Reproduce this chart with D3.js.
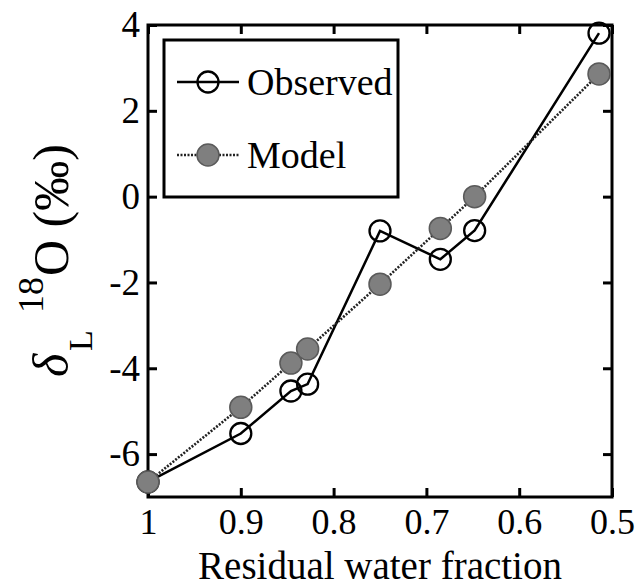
<!DOCTYPE html>
<html>
<head>
<meta charset="utf-8">
<script src="https://cdn.jsdelivr.net/npm/d3@7"></script>
<style>
  body { margin: 0; background: #fff; }
  svg { display: block; font-family: "Liberation Serif", "Times New Roman", serif; }
</style>
</head>
<body>
<div id="chart"></div>
<script>
// residual water fraction for each sample
var fraction = [1, 0.9, 0.846, 0.828, 0.75, 0.685, 0.648, 0.514];
// delta_L 18O values (per mil)
var observed = [-6.65, -5.52, -4.53, -4.37, -0.80, -1.46, -0.79, 3.81];
var model = [-6.65, -4.91, -3.88, -3.55, -2.04, -0.74, 0.0, 2.86];

var xTicks = [1, 0.9, 0.8, 0.7, 0.6, 0.5];
var xTickLabels = ["1", "0.9", "0.8", "0.7", "0.6", "0.5"];
var yTicks = [-6, -4, -2, 0, 2, 4];
var yTickLabels = ["-6", "-4", "-2", "0", "2", "4"];

var svgWidth = 639;
var svgHeight = 588;
var margin = { top: 25, right: 27, bottom: 91, left: 148 };
var chartWidth = svgWidth - margin.left - margin.right;
var chartHeight = svgHeight - margin.top - margin.bottom;

var svg = d3.select("#chart")
    .append("svg")
    .attr("width", svgWidth)
    .attr("height", svgHeight);

var chartGroup = svg.append("g")
    .attr("transform", `translate(${margin.left}, ${margin.top})`);

var xScale = d3.scaleLinear().domain([1, 0.5]).range([0, chartWidth]);
var yScale = d3.scaleLinear().domain([-7, 4]).range([chartHeight, 0]);

var tickLen = 9;

// axes with inward ticks on all four sides
var bottomAxis = d3.axisBottom(xScale)
    .tickValues(xTicks)
    .tickFormat((d, i) => xTickLabels[i])
    .tickSizeInner(-tickLen).tickSizeOuter(0);
var topAxis = d3.axisTop(xScale)
    .tickValues(xTicks).tickFormat("")
    .tickSizeInner(-tickLen).tickSizeOuter(0);
var leftAxis = d3.axisLeft(yScale)
    .tickValues(yTicks)
    .tickFormat((d, i) => yTickLabels[i])
    .tickSizeInner(-tickLen).tickSizeOuter(0).tickPadding(8);
var rightAxis = d3.axisRight(yScale)
    .tickValues(yTicks).tickFormat("")
    .tickSizeInner(-tickLen).tickSizeOuter(0);

var xAxis = chartGroup.append("g")
    .attr("transform", `translate(0, ${chartHeight})`)
    .call(bottomAxis);

chartGroup.append("g").call(topAxis);
var yAxis = chartGroup.append("g").call(leftAxis);
chartGroup.append("g")
    .attr("transform", `translate(${chartWidth}, 0)`)
    .call(rightAxis);

chartGroup.selectAll(".domain").remove();
chartGroup.selectAll(".tick line")
    .attr("stroke", "#000")
    .attr("stroke-width", 3);
chartGroup.selectAll(".tick text")
    .attr("font-family", "Liberation Serif")
    .attr("fill", "#000");
xAxis.selectAll("text")
    .attr("font-size", 36)
    .attr("y", 37).attr("dy", 0);
yAxis.selectAll("text")
    .attr("font-size", 37);

// plot frame
chartGroup.append("rect")
    .attr("width", chartWidth)
    .attr("height", chartHeight)
    .attr("fill", "none")
    .attr("stroke", "#000")
    .attr("stroke-width", 3);

var obsData = fraction.map((f, i) => ({ x: f, y: observed[i] }));
var modData = fraction.map((f, i) => ({ x: f, y: model[i] }));

var line = d3.line()
    .x(d => xScale(d.x))
    .y(d => yScale(d.y));

// observed series
chartGroup.append("path")
    .datum(obsData)
    .attr("d", line)
    .attr("fill", "none")
    .attr("stroke", "#000")
    .attr("stroke-width", 2.5);

chartGroup.selectAll(".obs")
    .data(obsData)
    .enter().append("circle")
    .attr("class", "obs")
    .attr("cx", d => xScale(d.x))
    .attr("cy", d => yScale(d.y))
    .attr("r", 10.5)
    .attr("fill", "none")
    .attr("stroke", "#000")
    .attr("stroke-width", 2.3);

// model series
chartGroup.append("path")
    .datum(modData)
    .attr("d", line)
    .attr("fill", "none")
    .attr("stroke", "#222")
    .attr("stroke-width", 2.6)
    .attr("stroke-dasharray", "2,1.5");

chartGroup.selectAll(".mod")
    .data(modData)
    .enter().append("circle")
    .attr("class", "mod")
    .attr("cx", d => xScale(d.x))
    .attr("cy", d => yScale(d.y))
    .attr("r", 11)
    .attr("fill", "#7f7f7f")
    .attr("stroke", "#5a5a5a")
    .attr("stroke-width", 1.5);

// legend
var legend = svg.append("g");
legend.append("rect")
    .attr("x", 164).attr("y", 40)
    .attr("width", 234).attr("height", 157)
    .attr("fill", "#fff")
    .attr("stroke", "#000")
    .attr("stroke-width", 3);

var legendRows = [
    { label: "Observed", y: 82, dash: null, stroke: "#000", fill: "none", ms: "#000", r: 10.5 },
    { label: "Model", y: 155, dash: "2,1.5", stroke: "#222", fill: "#7f7f7f", ms: "#5a5a5a", r: 11 }
];
legendRows.forEach(function (row) {
    legend.append("line")
        .attr("x1", 177).attr("x2", 239)
        .attr("y1", row.y).attr("y2", row.y)
        .attr("stroke", row.stroke)
        .attr("stroke-width", 2.5)
        .attr("stroke-dasharray", row.dash);
    legend.append("circle")
        .attr("cx", 208).attr("cy", row.y)
        .attr("r", row.r)
        .attr("fill", row.fill)
        .attr("stroke", row.ms)
        .attr("stroke-width", row.fill === "none" ? 2.3 : 1.5);
    legend.append("text")
        .attr("x", 247).attr("y", row.y + 13)
        .attr("font-size", 38)
        .text(row.label);
});

// x axis title
svg.append("text")
    .attr("x", margin.left + chartWidth / 2)
    .attr("y", 579)
    .attr("text-anchor", "middle")
    .attr("font-size", 39)
    .text("Residual water fraction");

// y axis title: delta_L ^18 O (permil)
var yLabel = svg.append("text")
    .attr("transform", "translate(68, 377) rotate(-90)")
    .attr("font-size", 50);
yLabel.append("tspan").attr("x", 0).attr("y", 0)
    .attr("font-style", "italic").text("δ");
yLabel.append("tspan").attr("x", 26).attr("y", 24)
    .attr("font-size", 34).text("L");
yLabel.append("tspan").attr("x", 64).attr("y", -25)
    .attr("font-size", 36).text("18");
yLabel.append("tspan").attr("x", 101).attr("y", 0)
    .text("O (‰)");
</script>
</body>
</html>
